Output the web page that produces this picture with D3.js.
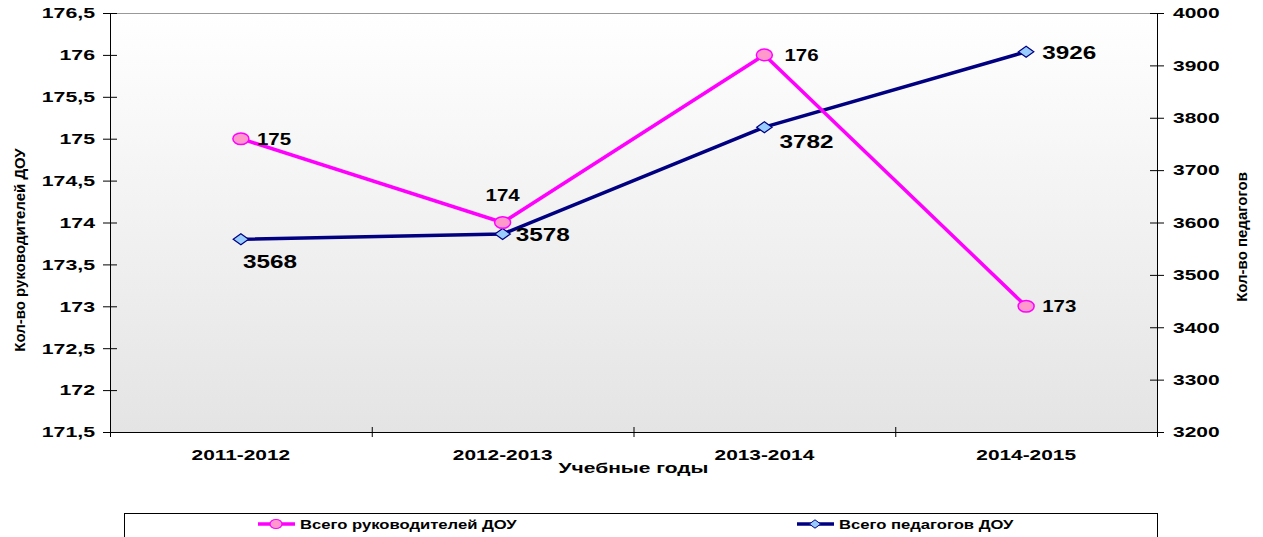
<html>
<head>
  <meta charset="utf-8">
  <title>Руководители и педагоги ДОУ</title>
  <script src="https://cdn.jsdelivr.net/npm/d3@7"></script>
  <style>
    body { margin: 0; background: #fff; }
    text { font-family: "Liberation Sans", Arial, sans-serif; font-weight: bold; fill: #000; }
    .axis path, .axis line { stroke: #000; }
  </style>
</head>
<body>
  <script>
    // Данные
    const years = ["2011-2012", "2012-2013", "2013-2014", "2014-2015"];
    const heads = [175, 174, 176, 173];          // Всего руководителей ДОУ
    const teachers = [3568, 3578, 3782, 3926];   // Всего педагогов ДОУ
    const leftTicks = [171.5, 172, 172.5, 173, 173.5, 174, 174.5, 175, 175.5, 176, 176.5];
    const rightTicks = [3200, 3300, 3400, 3500, 3600, 3700, 3800, 3900, 4000];

    const w = 1263, h = 537;
    const pLeft = 110, pRight = 1157, pTop = 13, pBottom = 432;

    const svg = d3.select("body").append("svg")
      .attr("width", w).attr("height", h);

    // текст в оригинале растянут по горизонтали
    function stretch(sel, sx) {
      sel.each(function () {
        const t = d3.select(this);
        const x = +t.attr("x") || 0, y = +t.attr("y") || 0;
        t.attr("transform", "translate(" + x + "," + y + ") scale(" + sx + ",1)")
          .attr("x", 0).attr("y", 0);
      });
    }

    // Градиент фона
    const grad = svg.append("defs").append("linearGradient")
      .attr("id", "bg").attr("x1", 0).attr("y1", 0).attr("x2", 0).attr("y2", 1);
    grad.append("stop").attr("offset", "0%").attr("stop-color", "#ffffff");
    grad.append("stop").attr("offset", "100%").attr("stop-color", "#e4e4e4");

    svg.append("rect")
      .attr("x", pLeft).attr("y", pTop)
      .attr("width", pRight - pLeft).attr("height", pBottom - pTop)
      .attr("fill", "url(#bg)");
    svg.append("line")
      .attr("x1", pLeft).attr("x2", pRight).attr("y1", pTop + 0.5).attr("y2", pTop + 0.5)
      .attr("stroke", "#999");

    // Скалы
    const xBand = d3.scaleBand().domain(years).range([pLeft, pRight]);
    const xc = d => xBand(d) + xBand.bandwidth() / 2;
    const yL = d3.scaleLinear().domain([171.5, 176.5]).range([pBottom, pTop]);
    const yR = d3.scaleLinear().domain([3200, 4000]).range([pBottom, pTop]);

    const fmt = d => String(d).replace(".", ",");

    // Левая ось
    const gL = svg.append("g").attr("class", "axis")
      .attr("transform", "translate(" + pLeft + ",0)")
      .call(d3.axisLeft(yL).tickValues(leftTicks).tickFormat(fmt).tickSizeInner(7).tickSizeOuter(0));
    gL.selectAll(".tick line").attr("x2", 7).attr("x1", -7);
    gL.selectAll("text").style("font-size", "15px").attr("x", -15);
    stretch(gL.selectAll("text"), 1.42);

    // Правая ось
    const gR = svg.append("g").attr("class", "axis")
      .attr("transform", "translate(" + pRight + ",0)")
      .call(d3.axisRight(yR).tickValues(rightTicks).tickFormat(d3.format("d")).tickSizeInner(7).tickSizeOuter(0));
    gR.selectAll(".tick line").attr("x1", -7).attr("x2", 7);
    gR.selectAll("text").style("font-size", "15px").attr("x", 16);
    stretch(gR.selectAll("text"), 1.4);

    // Нижняя ось
    const xLin = d3.scaleLinear().domain([0, years.length]).range([pLeft, pRight]);
    const gX = svg.append("g").attr("class", "axis")
      .attr("transform", "translate(0," + pBottom + ")")
      .call(d3.axisBottom(xLin).ticks(years.length).tickFormat("").tickSizeOuter(0).tickSizeInner(5));
    gX.selectAll(".tick line").attr("y1", -5).attr("y2", 5);
    gX.selectAll(".tick text").remove();
    const xl = svg.selectAll(".xlabel").data(years).enter().append("text")
      .attr("x", d => xc(d)).attr("y", pBottom + 28)
      .attr("text-anchor", "middle").style("font-size", "15px")
      .text(d => d);
    stretch(xl, 1.39);

    // Подписи осей
    const xt = svg.append("text").attr("x", (pLeft + pRight) / 2 + 0).attr("y", 473)
      .attr("text-anchor", "middle").style("font-size", "15px").text("Учебные годы");
    stretch(xt, 1.4);
    svg.append("text")
      .attr("transform", "translate(25,250) rotate(-90)")
      .attr("text-anchor", "middle").style("font-size", "15px")
      .style("font-family", "'Liberation Sans Narrow', 'Liberation Sans', sans-serif")
      .text("Кол-во руководителей ДОУ");
    svg.append("text")
      .attr("transform", "translate(1247,237) rotate(-90)")
      .attr("text-anchor", "middle").style("font-size", "15px")
      .style("font-family", "'Liberation Sans Narrow', 'Liberation Sans', sans-serif")
      .text("Кол-во педагогов");

    // Линии
    const lineL = d3.line().x((d, i) => xc(years[i])).y(d => yL(d));
    const lineR = d3.line().x((d, i) => xc(years[i])).y(d => yR(d));

    svg.append("path").datum(teachers).attr("d", lineR)
      .attr("fill", "none").attr("stroke", "#000080").attr("stroke-width", 3.5);
    svg.append("path").datum(heads).attr("d", lineL)
      .attr("fill", "none").attr("stroke", "#ff00ff").attr("stroke-width", 3.5);

    const diamond = d3.symbol().type(d3.symbolDiamond2).size(77);
    svg.selectAll(".dia").data(teachers).enter().append("path")
      .attr("d", diamond)
      .attr("transform", (d, i) => "translate(" + xc(years[i]) + "," + yR(d) + ") scale(1.4,1)")
      .attr("vector-effect", "non-scaling-stroke")
      .attr("fill", "#99ccff").attr("stroke", "#000080").attr("stroke-width", 1.2);

    svg.selectAll(".dot").data(heads).enter().append("ellipse")
      .attr("cx", (d, i) => xc(years[i])).attr("cy", d => yL(d))
      .attr("rx", 8).attr("ry", 5.8)
      .attr("fill", "#ff99cc").attr("stroke", "#ff00ff").attr("stroke-width", 1.5);

    // Подписи значений
    const headOff = [[16, 6, "start"], [0, -22, "middle"], [20, 6, "start"], [16, 6, "start"]];
    const teachOff = [[2, 29, "start"], [13, 7, "start"], [15, 21, "start"], [16, 7, "start"]];
    const hl = svg.selectAll(".hl").data(heads).enter().append("text")
      .attr("x", (d, i) => xc(years[i]) + headOff[i][0])
      .attr("y", (d, i) => yL(d) + headOff[i][1])
      .attr("text-anchor", (d, i) => headOff[i][2])
      .style("font-size", "16px").text(d => d);
    stretch(hl, 1.28);
    const tl = svg.selectAll(".tl").data(teachers).enter().append("text")
      .attr("x", (d, i) => xc(years[i]) + teachOff[i][0])
      .attr("y", (d, i) => yR(d) + teachOff[i][1])
      .attr("text-anchor", (d, i) => teachOff[i][2])
      .style("font-size", "18px").text(d => d);
    stretch(tl, 1.35);

    // Легенда
    svg.append("rect").attr("x", 124.5).attr("y", 513.5).attr("width", 1033).attr("height", 30)
      .attr("fill", "#fff").attr("stroke", "#000").attr("stroke-width", 1);
    const legend = [
      { name: "Всего руководителей ДОУ", color: "#ff00ff", fill: "#ff99cc", x: 258, circle: true },
      { name: "Всего педагогов ДОУ", color: "#000080", fill: "#99ccff", x: 797, circle: false }
    ];
    legend.forEach(l => {
      svg.append("line").attr("x1", l.x).attr("x2", l.x + 37).attr("y1", 524).attr("y2", 524)
        .attr("stroke", l.color).attr("stroke-width", 3.5);
      if (l.circle) {
        svg.append("ellipse").attr("cx", l.x + 18).attr("cy", 524).attr("rx", 6).attr("ry", 4.5)
          .attr("fill", l.fill).attr("stroke", l.color).attr("stroke-width", 1.2);
      } else {
        svg.append("path").attr("d", d3.symbol().type(d3.symbolDiamond2).size(45))
          .attr("transform", "translate(" + (l.x + 18) + ",524) scale(1.35,1)")
          .attr("vector-effect", "non-scaling-stroke")
          .attr("fill", l.fill).attr("stroke", l.color).attr("stroke-width", 1);
      }
      const lt = svg.append("text").attr("x", l.x + 42).attr("y", 528.5)
        .style("font-size", "13px")
        .style("font-family", "'Liberation Sans Narrow', 'Liberation Sans', sans-serif")
        .text(l.name);
      stretch(lt, 1.28);
    });
  </script>
</body>
</html>
